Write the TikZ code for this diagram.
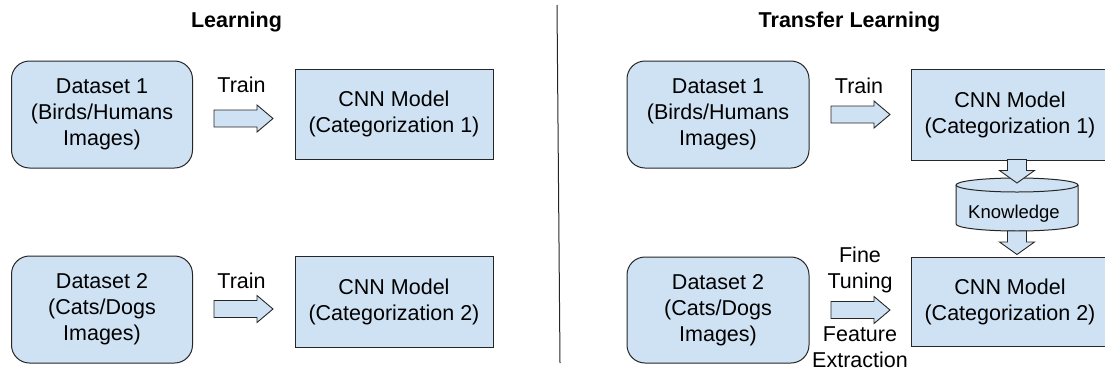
\documentclass[tikz,border=0pt]{standalone}
\usepackage{fontspec}
\setmainfont{Liberation Sans}
\definecolor{boxfill}{HTML}{CFE2F3}
\definecolor{edge}{HTML}{262626}
\tikzset{
  every node/.style={inner sep=0pt, outer sep=0pt},
  body/.style={font=\fontsize{21.5}{26}\selectfont, align=center},
  dsbox/.style={body, draw=edge, fill=boxfill, line width=1pt, rounded corners=18pt,
    minimum width=181pt, minimum height=107pt},
  cnnbox/.style={body, draw=edge, fill=boxfill, line width=1pt,
    minimum width=198pt, minimum height=90pt},
  heading/.style={font=\fontsize{21.5}{26}\selectfont\bfseries, anchor=base},
  label/.style={body, anchor=base},
  blockarrow/.style={draw=edge, fill=boxfill, line width=0.9pt, line join=miter},
  % horizontal block arrow, tail centre at the pic origin
  harrow/.pic={\path[blockarrow] (0,-8.5) -- (43,-8.5) -- (43,-13.5) -- (59,0)
      -- (43,13.5) -- (43,8.5) -- (0,8.5) -- cycle;},
  % short downward block arrow, tail centre at the pic origin
  varrow/.pic={\path[blockarrow] (-9.5,0) -- (-9.5,11) -- (-17.5,11) -- (0,23.5)
      -- (17.5,11) -- (9.5,11) -- (9.5,0) -- cycle;},
}
\begin{document}
\begin{tikzpicture}[x=1pt,y=-1pt]
\useasboundingbox (0,0) rectangle (1105,370);

% headings and divider
\node[heading] (hl) at (236.5,27) {Learning};
\node[heading] (ht) at (849.5,27) {Transfer Learning};
\coordinate (dtop) at (557,5);
\coordinate (dbot) at (560,363);
\draw[edge, line width=1pt] (dtop) -- (dbot);

% --- Learning ---
\node[dsbox] (l1) at (102,114.5) {Dataset 1\\(Birds/Humans\\Images)};
\node[cnnbox] (lc1) at (394,114) {CNN Model\\(Categorization 1)};
\node[label] (lt1) at (241.5,92.5) {Train};
\pic at (214,118.5) {harrow};

\node[dsbox] (l2) at (102,309.5) {Dataset 2\\(Cats/Dogs\\Images)};
\node[cnnbox, minimum height=91pt] (lc2) at (394,301.5) {CNN Model\\(Categorization 2)};
\node[label] (lt2) at (241.5,288) {Train};
\pic at (214,309) {harrow};

% --- Transfer Learning ---
\node[dsbox, minimum width=182pt] (r1) at (718,114.5) {Dataset 1\\(Birds/Humans\\Images)};
\node[cnnbox, minimum height=91pt] (rc1) at (1010,114.5) {CNN Model\\(Categorization 1)};
\node[label] (rt1) at (859,93) {Train};
\pic at (831,114.5) {harrow};

\node[dsbox, minimum width=182pt, minimum height=106pt] (r2) at (718,310) {Dataset 2\\(Cats/Dogs\\Images)};
\node[cnnbox, minimum height=89pt] (rc2) at (1010,301.5) {CNN Model\\(Categorization 2)};
\node[body] (ft) at (860,269.5) {Fine\\Tuning};
\node[body] (fe) at (860,347) {Feature\\Extraction};
\pic at (831,310) {harrow};

% knowledge store between the two models
\filldraw[fill=boxfill, draw=edge, line width=1pt]
  (956,185) -- (956,224) arc[start angle=180, end angle=0, x radius=61, y radius=7] -- (1078,185);
\filldraw[fill=boxfill, draw=edge, line width=1pt] (1017,185) ellipse [x radius=61, y radius=7];
\node[font=\fontsize{18.5}{22}\selectfont, anchor=base] (kn) at (1014,218) {Knowledge};
\coordinate (knbot) at (1017,231);
\coordinate (rc1bot) at (1017,159.5);
\pic at (rc1bot) {varrow};
\pic at (knbot) {varrow};
\end{tikzpicture}
\end{document}
